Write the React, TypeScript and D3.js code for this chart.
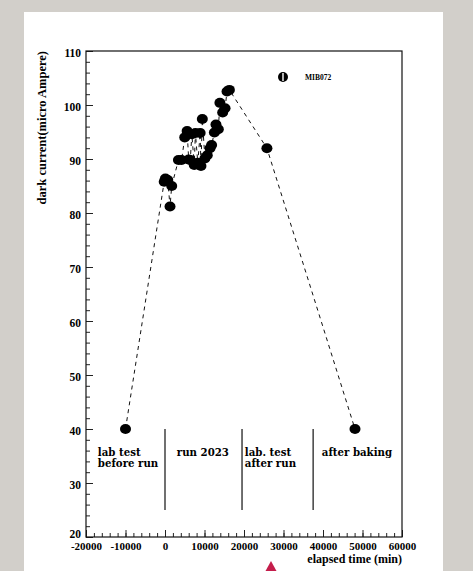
import { useEffect, useRef } from 'react';
import * as d3 from 'd3';

// elapsed time (min) and dark current (micro Ampere) for MIB072
const times = [
  -10000, -200, 100, 700, 1270, 1700, 3400, 4200, 5000, 5600, 6000, 6400, 6800,
  7400, 7700, 8300, 8900, 9100, 9450, 10100, 10700, 11400, 11800, 12500, 12900,
  13500, 13900, 14600, 15200, 15700, 16300, 25800, 48100,
];
const currents = [
  40, 85.8, 86.4, 86.1, 81.2, 85.0, 89.8, 89.8, 94.0, 95.2, 89.9, 89.8, 94.6,
  88.9, 94.8, 89.3, 94.8, 88.7, 97.4, 90.1, 90.7, 92.0, 92.6, 94.9, 96.4,
  95.5, 100.4, 98.6, 99.4, 102.5, 102.8, 92.0, 40,
];

const xTicks = [-20000, -10000, 0, 10000, 20000, 30000, 40000, 50000, 60000];
const yTicks = [20, 30, 40, 50, 60, 70, 80, 90, 100, 110];

// phase separators (time) and the labels between them
const phaseBounds = [0, 19500, 37500];
const phaseLabels = [
  { t: -17000, lines: ['lab test', 'before run'] },
  { t: 3000, lines: ['run 2023'] },
  { t: 20200, lines: ['lab. test', 'after run'] },
  { t: 39700, lines: ['after baking'] },
];

const W = 473;
const H = 571;

const App = () => {
  const svgRef = useRef<SVGSVGElement>(null);

  useEffect(() => {
    const svg = d3.select(svgRef.current);
    svg.selectAll('*').remove();

    const left = 86, right = 402, top = 51, bottom = 537;
    const x = d3.scaleLinear().domain([-20000, 60000]).range([left, right]);
    const y = d3.scaleLinear().domain([20, 110]).range([bottom, top]);

    // page background + white panel
    svg.append('rect').attr('width', W).attr('height', H).attr('fill', '#d2cfca');
    svg.append('rect').attr('x', 24).attr('y', 12).attr('width', 419).attr('height', H - 12).attr('fill', '#fff');

    const font = "'Liberation Serif', 'Times New Roman', serif";
    const plain = (d: d3.NumberValue) => String(d);

    // minor ticks
    svg.append('g')
      .attr('transform', `translate(${left},0)`)
      .call(d3.axisLeft(y).tickValues(d3.range(20, 110.1, 2)).tickSize(-4).tickFormat(() => ''))
      .call(g => g.select('.domain').remove())
      .call(g => g.selectAll('line').attr('stroke', '#222'));
    svg.append('g')
      .attr('transform', `translate(0,${bottom})`)
      .call(d3.axisBottom(x).tickValues(d3.range(-20000, 60001, 2000)).tickSize(-4).tickFormat(() => ''))
      .call(g => g.select('.domain').remove())
      .call(g => g.selectAll('line').attr('stroke', '#222'));

    // major ticks + labels
    svg.append('g')
      .attr('transform', `translate(${left},0)`)
      .call(d3.axisLeft(y).tickValues(yTicks).tickSize(-7).tickPadding(5).tickFormat(plain))
      .call(g => g.select('.domain').remove())
      .call(g => g.selectAll('line').attr('stroke', '#222'))
      .call(g => g.selectAll<SVGTextElement, number>('text')
        .attr('dy', d => (d === 20 ? '0.05em' : '0.45em'))
        .attr('font-family', font).attr('font-weight', 'bold').attr('font-size', 11.5).attr('fill', '#000'));

    svg.append('g')
      .attr('transform', `translate(0,${bottom})`)
      .call(d3.axisBottom(x).tickValues(xTicks).tickSize(-7).tickPadding(5).tickFormat(plain))
      .call(g => g.select('.domain').remove())
      .call(g => g.selectAll('line').attr('stroke', '#222'))
      .call(g => g.selectAll('text')
        .attr('font-family', font).attr('font-weight', 'bold').attr('font-size', 11).attr('fill', '#000'));

    // frame
    svg.append('rect')
      .attr('x', left).attr('y', top)
      .attr('width', right - left).attr('height', bottom - top)
      .attr('fill', 'none').attr('stroke', '#111').attr('stroke-width', 1.2);

    // axis titles
    svg.append('text')
      .attr('transform', `translate(46,${top}) rotate(-90)`)
      .attr('text-anchor', 'end')
      .attr('font-family', font).attr('font-weight', 'bold').attr('font-size', 12.5)
      .text('dark current(micro Ampere)');
    svg.append('text')
      .attr('x', right).attr('y', 563)
      .attr('text-anchor', 'end')
      .attr('font-family', font).attr('font-weight', 'bold').attr('font-size', 12)
      .text('elapsed time (min)');

    // phase separators
    svg.append('g')
      .selectAll('line')
      .data(phaseBounds)
      .join('line')
        .attr('x1', d => x(d)).attr('x2', d => x(d))
        .attr('y1', y(40)).attr('y2', y(25))
        .attr('stroke', '#111').attr('stroke-width', 1.2);

    const labelFont = "'DejaVu Serif', serif";
    const pl = svg.append('g');
    phaseLabels.forEach(p => {
      p.lines.forEach((s, i) => {
        pl.append('text')
          .attr('x', x(p.t)).attr('y', 456 + i * 10.5)
          .attr('font-family', labelFont).attr('font-weight', 'bold').attr('font-size', 10.2)
          .text(s);
      });
    });

    // dashed connecting line
    const pts = times.map((t, i) => [t, currents[i]] as [number, number]);
    svg.append('path')
      .datum(pts)
      .attr('fill', 'none')
      .attr('stroke', '#111')
      .attr('stroke-width', 1)
      .attr('stroke-dasharray', '4,4')
      .attr('d', d3.line<[number, number]>().x(d => x(d[0])).y(d => y(d[1])));

    // markers
    svg.append('g')
      .selectAll('ellipse')
      .data(pts)
      .join('ellipse')
        .attr('cx', d => x(d[0]))
        .attr('cy', d => y(d[1]))
        .attr('rx', 5.5).attr('ry', 5)
        .attr('fill', '#000');

    // legend
    svg.append('circle').attr('cx', 283).attr('cy', 77).attr('r', 5).attr('fill', '#000');
    svg.append('line').attr('x1', 283).attr('x2', 283).attr('y1', 73).attr('y2', 81)
      .attr('stroke', '#fff').attr('stroke-width', 1.4);
    svg.append('text')
      .attr('x', 305).attr('y', 80)
      .attr('font-family', font).attr('font-weight', 'bold').attr('font-size', 7.5)
      .text('MIB072');

    // red marker at the bottom edge
    svg.append('path')
      .attr('d', 'M265.5,571 L271,561 L276.5,571 Z')
      .attr('fill', '#c41d4b');
  }, []);

  return (
    <div style={{ position: 'absolute', left: 0, top: 0 }}>
      <svg ref={svgRef} width={W} height={H} style={{ display: 'block' }} />
    </div>
  );
};

export default App;
